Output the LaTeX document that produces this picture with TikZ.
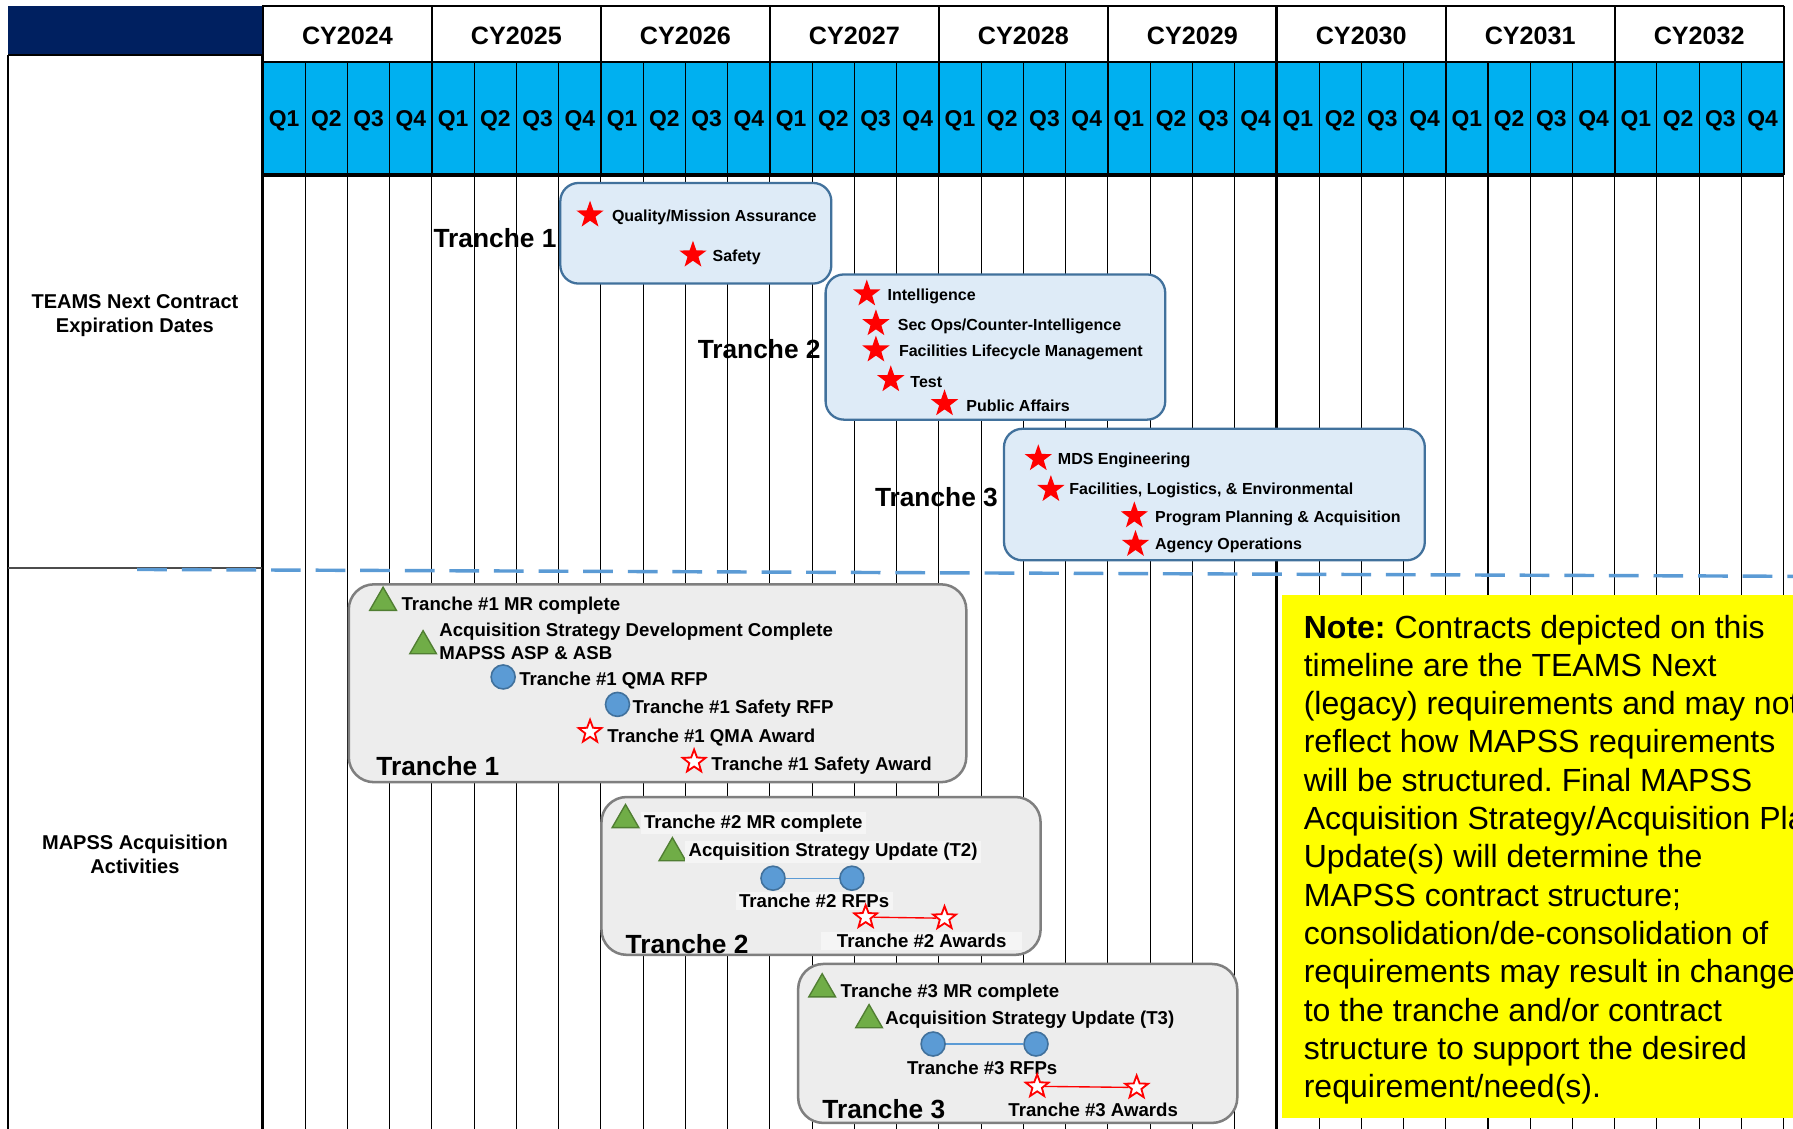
\documentclass[tikz,border=0pt]{standalone}
\usepackage{fontspec}
\setmainfont{Liberation Sans}
\usetikzlibrary{shapes.geometric}
\definecolor{navy}{HTML}{002060}
\definecolor{qcyan}{HTML}{00B0F0}
\definecolor{boxblue}{HTML}{DEEBF7}
\definecolor{boxblueline}{HTML}{41719C}
\definecolor{boxgray}{HTML}{EDEDED}
\definecolor{txtbg}{HTML}{F5F5F5}
\definecolor{boxgrayline}{HTML}{7F7F7F}
\definecolor{tgreen}{HTML}{70AD47}
\definecolor{tgreenline}{HTML}{507E32}
\definecolor{cblue}{HTML}{5B9BD5}
\definecolor{noteyellow}{HTML}{FFFF00}
\frenchspacing
\begin{document}
\begin{tikzpicture}[x=1pt,y=-1pt,
  yearlbl/.style={font=\fontsize{22}{26}\selectfont\bfseries, inner sep=0},
  qlbl/.style={font=\fontsize{20}{24}\selectfont\bfseries, inner sep=0},
  sidelbl/.style={font=\fontsize{17.5}{21}\selectfont\bfseries, align=center, inner sep=0},
  tlbl/.style={font=\fontsize{23}{27}\selectfont\bfseries, inner sep=0, anchor=west},
  itemT/.style={font=\fontsize{14}{17}\selectfont\bfseries, inner sep=0, anchor=west},
  itemB/.style={font=\fontsize{16.3}{20}\selectfont\bfseries, inner sep=0, anchor=west},
  itemC/.style={font=\fontsize{16.3}{20}\selectfont\bfseries, inner sep=0},
  withbg/.style={fill=txtbg, inner xsep=3pt, inner ysep=2pt},
  bluebox/.style={draw=boxblueline, fill=boxblue, line width=2pt, rounded corners=16pt},
  graybox/.style={draw=boxgrayline, fill=boxgray, line width=2.2pt, rounded corners=22pt},
  fstar/.style={star, star points=5, star point ratio=2.5, fill=red, draw=none, minimum size=25pt, inner sep=0},
  ostar/.style={star, star points=5, star point ratio=2.4, fill=white, draw=red, line width=1.6pt, minimum size=21pt, inner sep=0},
  tri/.style={regular polygon, regular polygon sides=3, fill=tgreen, draw=tgreenline, line width=1.2pt, minimum size=27pt, inner sep=0},
  circ/.style={circle, fill=cblue, draw=boxblueline, line width=1.4pt, minimum size=21pt, inner sep=0},
  notetxt/.style={font=\fontsize{28}{33.5}\selectfont, inner sep=0, anchor=base west},
]
\useasboundingbox (0,0) rectangle (1568,987);
\clip (0,0) rectangle (1568,987);
\fill[white] (0,0) rectangle (1568,987);

% ---------- header ----------
\fill[navy] (7,5) rectangle (229,48);
\fill[qcyan] (230,54) rectangle (1560,153);
\foreach \i in {0,...,36} {
  \draw[line width=0.9pt] ({230+36.94*\i},54) -- ({230+36.94*\i},990);
}
\foreach \k in {0,...,9} {
  \draw[line width=1.6pt] ({230+147.76*\k},5) -- ({230+147.76*\k},153);
}
\draw[line width=2.6pt] (1116.6,5) -- (1116.6,990);
\draw[line width=1.8pt] (229,5) -- (1560,5);
\draw[line width=1.4pt] (229,54) -- (1560,54);
\draw[line width=3pt] (229,153) -- (1560,153);

\foreach \yr [count=\k from 0] in {2024,...,2032} {
  \node[yearlbl] (yr\yr) at ({230+147.76*\k+73.88},31) {CY\yr};
  \foreach \q in {1,...,4} {
    \node[qlbl] (q\yr\q) at ({230+147.76*\k+36.94*(\q-0.5)},106) {Q\q};
  }
}

% ---------- left column ----------
\draw[line width=1.2pt] (7,48) -- (7,990);
\draw[line width=1.2pt] (229,48) -- (229,990);
\draw[line width=1.2pt] (7,48) -- (229,48);
\draw[gray!60!black, line width=1.6pt] (7,497) -- (229,497);
\node[sidelbl] (side1) at (118,276) {TEAMS Next Contract\\Expiration Dates};
\node[sidelbl] (side2) at (118,747) {MAPSS Acquisition\\Activities};

% ---------- dashed divider ----------
\draw[cblue, line width=3pt, dash pattern=on 26pt off 13pt] (120,498) -- (1568,504);

% ---------- TEAMS Next contract boxes ----------
\draw[bluebox] (490,160) rectangle (727,248);
\draw[bluebox] (722,240) rectangle (1019,367);
\draw[bluebox] (878,375) rectangle (1246,490);

\node[tlbl] (tr1) at (379,208) {Tranche 1};
\node[tlbl] (tr2) at (610,305) {Tranche 2};
\node[tlbl] (tr3) at (765,435) {Tranche 3};

\node[fstar] (s11) at (516,188) {};
\node[itemT] (l11) at (535,190) {Quality/Mission Assurance};
\node[fstar] (s12) at (606,223) {};
\node[itemT] (l12) at (623,225) {Safety};

\node[fstar] (s21) at (758,257) {};
\node[itemT] (l21) at (776,259) {Intelligence};
\node[fstar] (s22) at (766,283) {};
\node[itemT] (l22) at (785,285) {Sec Ops/Counter-Intelligence};
\node[fstar] (s23) at (766,306) {};
\node[itemT] (l23) at (786,308) {Facilities Lifecycle Management};
\node[fstar] (s24) at (779,332) {};
\node[itemT] (l24) at (796,334) {Test};
\node[fstar] (s25) at (826,353) {};
\node[itemT] (l25) at (845,355) {Public Affairs};

\node[fstar] (s31) at (908,401) {};
\node[itemT] (l31) at (925,403) {MDS Engineering};
\node[fstar] (s32) at (919,428) {};
\node[itemT] (l32) at (935,429) {Facilities, Logistics, \& Environmental};
\node[fstar] (s33) at (992,451) {};
\node[itemT] (l33) at (1010,453) {Program Planning \& Acquisition};
\node[fstar] (s34) at (993,476) {};
\node[itemT] (l34) at (1010,477) {Agency Operations};

% ---------- MAPSS acquisition boxes ----------
\draw[graybox] (305,511) rectangle (845,684);
\draw[graybox] (526,697) rectangle (910,835);
\draw[graybox] (698,843) rectangle (1082,982);

% Tranche 1
\node[tri] (m11) at (335,527) {};
\node[itemB] (ml11) at (351,530) {Tranche \#1 MR complete};
\node[tri] (m12) at (370,565) {};
\node[itemB, align=left] (ml12) at (384,561) {Acquisition Strategy Development Complete\\MAPSS ASP \& ASB};
\node[circ] (c11) at (440,592) {};
\node[itemB] (cl11) at (454,595) {Tranche \#1 QMA RFP};
\node[circ] (c12) at (540,616) {};
\node[itemB] (cl12) at (553,620) {Tranche \#1 Safety RFP};
\node[ostar] (a11) at (516,640) {};
\node[itemB] (al11) at (531,645) {Tranche \#1 QMA Award};
\node[ostar] (a12) at (607,666) {};
\node[itemB] (al12) at (622,670) {Tranche \#1 Safety Award};
\node[tlbl] (bt1) at (329,670) {Tranche 1};

% Tranche 2
\node[tri] (m21) at (547,717) {};
\node[itemB, withbg] (ml21) at (560,720) {Tranche \#2 MR complete\hspace{4pt}};
\node[tri] (m22) at (588,746) {};
\node[itemB, withbg] (ml22) at (599,745) {Acquisition Strategy Update (T2)\hspace{8pt}};
\node[circ] (c21) at (676,768) {};
\node[circ] (c22) at (745,768) {};
\draw[cblue, line width=1pt] (c21) -- (c22);
\node[itemC, withbg] (cl2) at (712,788) {Tranche \#2 RFPs};
\node[ostar] (a21) at (757,802) {};
\node[ostar] (a22) at (826,803) {};
\draw[red, line width=1.2pt] (a21) -- (a22);
\node[itemC, withbg, inner xsep=14pt] (al2) at (806,823) {Tranche \#2 Awards};
\node[tlbl] (bt2) at (547,826) {Tranche 2};

% Tranche 3
\node[tri] (m31) at (719,865) {};
\node[itemB] (ml31) at (735,868) {Tranche \#3 MR complete};
\node[tri] (m32) at (760,892) {};
\node[itemB] (ml32) at (774,892) {Acquisition Strategy Update (T3)};
\node[circ] (c31) at (816,913) {};
\node[circ] (c32) at (906,913) {};
\draw[cblue, line width=1pt] (c31) -- (c32);
\node[itemC] (cl3) at (859,934) {Tranche \#3 RFPs};
\node[ostar] (a31) at (907,950) {};
\node[ostar] (a32) at (994,951) {};
\draw[red, line width=1.2pt] (a31) -- (a32);
\node[itemC] (al3) at (956,971) {Tranche \#3 Awards};
\node[tlbl] (bt3) at (719,970) {Tranche 3};

% ---------- note ----------
\fill[noteyellow] (1121,520) rectangle (1575,978);
\node[notetxt] (n1) at (1140,558) {\textbf{Note:} Contracts depicted on this};
\node[notetxt] (n2) at (1140,591.5) {timeline are the TEAMS Next};
\node[notetxt] (n3) at (1140,625) {(legacy) requirements and may not};
\node[notetxt] (n4) at (1140,658.5) {reflect how MAPSS requirements};
\node[notetxt] (n5) at (1140,692) {will be structured. Final MAPSS};
\node[notetxt] (n6) at (1140,725.5) {Acquisition Strategy/Acquisition Plan};
\node[notetxt] (n7) at (1140,759) {Update(s) will determine the};
\node[notetxt] (n8) at (1140,792.5) {MAPSS contract structure;};
\node[notetxt] (n9) at (1140,826) {consolidation/de-consolidation of};
\node[notetxt] (n10) at (1140,859.5) {requirements may result in changes};
\node[notetxt] (n11) at (1140,893) {to the tranche and/or contract};
\node[notetxt] (n12) at (1140,926.5) {structure to support the desired};
\node[notetxt] (n13) at (1140,960) {requirement/need(s).};
\end{tikzpicture}
\end{document}
